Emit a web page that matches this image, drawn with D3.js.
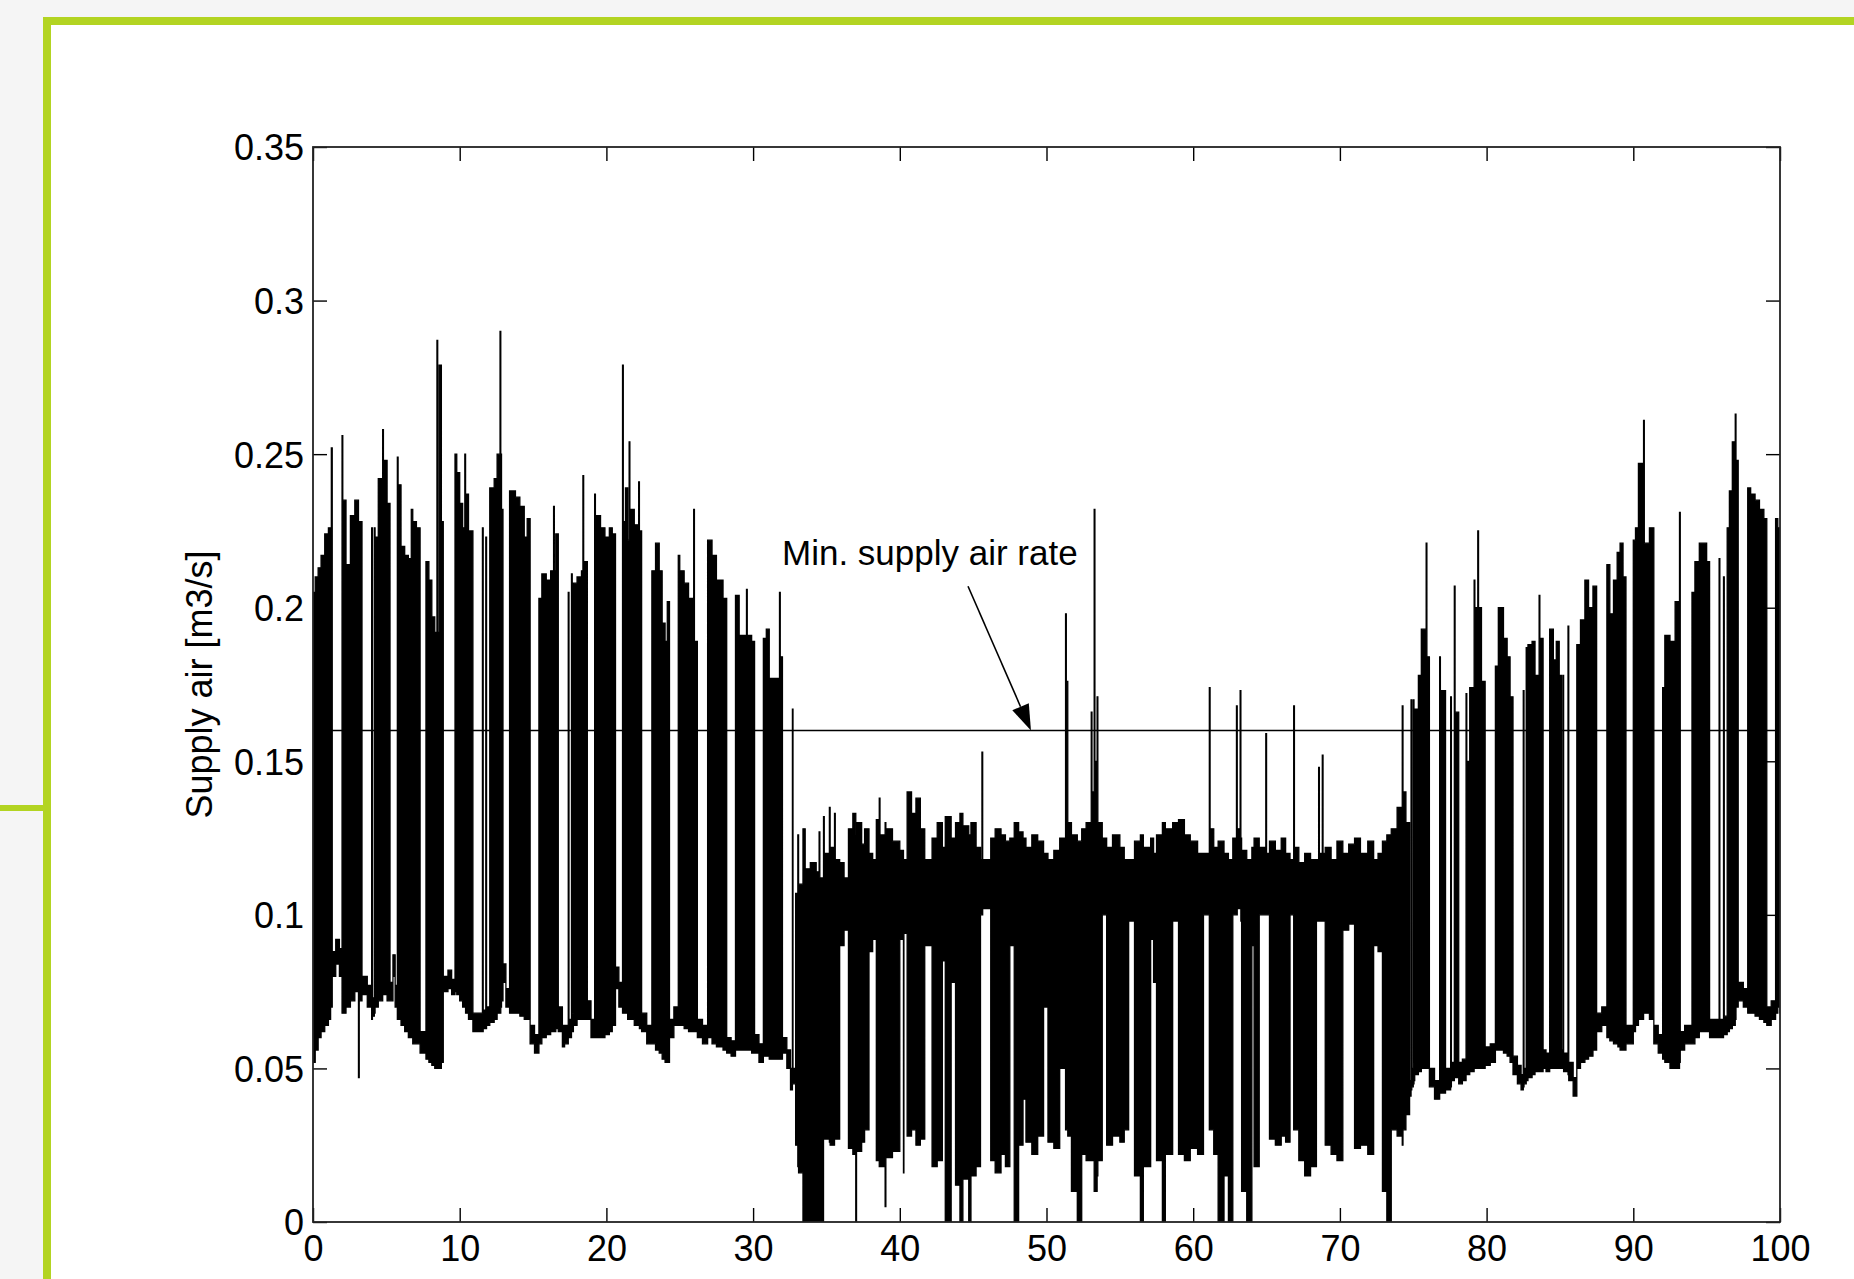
<!DOCTYPE html>
<html><head><meta charset="utf-8">
<script src="https://cdn.jsdelivr.net/npm/d3@7"></script>
<style>
html,body{margin:0;padding:0;background:#f4f4f4;}
svg{display:block;}
text{font-family:"Liberation Sans",Arial,Helvetica,sans-serif;fill:#000;}
</style></head><body>
<svg id="chart" width="1854" height="1279"></svg>
<script>
// ---------------- data ----------------
const xTicks = [0,10,20,30,40,50,60,70,80,90,100];
const yTicks = [0,0.05,0.1,0.15,0.2,0.25,0.3,0.35];
const yTickLabels = ["0","0.05","0.1","0.15","0.2","0.25","0.3","0.35"];
const yTitle = "Supply air [m3/s]";
const xTitle = "Time [h]";
const minSupplyRate = 0.16;
const annotationText = "Min. supply air rate";
const annotationTextAt = [31.97, 0.214];
const arrowFrom = [44.65, 0.207];
const arrowTo = [48.94, 0.16];

// [hour, low, high] — envelope of the supply-air signal, held until next sample
const seriesA = [
[0.00,0.052,0.205],[0.15,0.056,0.210],[0.35,0.060,0.213],[0.55,0.062,0.217],[0.80,0.064,0.224],[1.05,0.066,0.226],
[1.20,0.070,0.088],[1.25,0.070,0.252],[1.31,0.080,0.088],[1.55,0.084,0.092],[1.80,0.080,0.089],
[1.98,0.068,0.256],[2.03,0.068,0.235],[2.25,0.070,0.214],[2.55,0.072,0.230],[2.85,0.075,0.235],[3.10,0.047,0.228],[3.15,0.072,0.228],
[3.34,0.074,0.080],[3.70,0.070,0.077],[4.00,0.066,0.226],[4.05,0.067,0.073],
[4.18,0.068,0.226],[4.23,0.070,0.223],[4.45,0.072,0.242],[4.75,0.074,0.258],[4.80,0.074,0.248],[5.05,0.072,0.234],
[5.25,0.072,0.078],[5.45,0.080,0.087],[5.60,0.070,0.077],
[5.75,0.066,0.249],[5.80,0.066,0.240],[6.00,0.064,0.220],[6.25,0.062,0.217],[6.50,0.060,0.216],[6.70,0.060,0.232],[6.80,0.058,0.228],[7.05,0.058,0.226],
[7.30,0.055,0.062],
[7.70,0.053,0.215],[7.90,0.052,0.209],[8.10,0.051,0.197],[8.30,0.050,0.192],[8.45,0.050,0.287],[8.50,0.050,0.192],[8.60,0.050,0.279],[8.75,0.052,0.228],
[8.88,0.075,0.080],[9.20,0.076,0.082],[9.45,0.074,0.079],
[9.68,0.075,0.250],[9.80,0.074,0.244],[10.0,0.072,0.234],[10.2,0.070,0.226],[10.35,0.070,0.250],[10.40,0.068,0.237],[10.6,0.066,0.225],
[10.9,0.062,0.068],[11.55,0.062,0.226],[11.60,0.063,0.069],[11.78,0.063,0.223],[11.83,0.064,0.070],
[12.05,0.065,0.239],[12.35,0.066,0.242],[12.55,0.068,0.250],[12.75,0.068,0.290],[12.80,0.070,0.250],[12.85,0.072,0.232],
[12.95,0.078,0.084],[13.15,0.070,0.076],
[13.40,0.068,0.238],[13.80,0.068,0.236],[14.10,0.067,0.233],[14.40,0.066,0.223],[14.60,0.066,0.229],
[14.80,0.058,0.064],[15.10,0.055,0.061],
[15.40,0.058,0.203],[15.60,0.060,0.211],[15.90,0.061,0.209],[16.20,0.062,0.212],[16.40,0.062,0.233],[16.45,0.062,0.212],[16.55,0.063,0.224],
[16.72,0.062,0.070],[17.00,0.057,0.064],[17.15,0.058,0.064],[17.40,0.060,0.205],[17.45,0.060,0.066],[17.62,0.062,0.211],[17.67,0.062,0.068],
[17.75,0.064,0.208],[18.00,0.066,0.210],[18.30,0.066,0.212],[18.40,0.066,0.243],[18.45,0.066,0.215],
[18.70,0.066,0.072],[18.95,0.060,0.066],
[19.20,0.060,0.237],[19.25,0.060,0.230],[19.60,0.060,0.226],[19.90,0.061,0.223],[20.20,0.062,0.226],[20.40,0.064,0.224],
[20.62,0.076,0.083],[20.85,0.070,0.078],
[21.10,0.068,0.279],[21.15,0.068,0.228],[21.30,0.068,0.239],[21.45,0.066,0.222],[21.55,0.066,0.254],[21.60,0.066,0.232],[21.90,0.064,0.227],[22.20,0.064,0.241],[22.25,0.063,0.225],
[22.40,0.062,0.068],[22.75,0.058,0.064],
[23.10,0.058,0.212],[23.35,0.056,0.221],[23.60,0.055,0.212],[23.80,0.053,0.195],[24.00,0.052,0.189],[24.15,0.052,0.202],
[24.30,0.060,0.066],[24.60,0.064,0.070],
[24.90,0.064,0.217],[25.00,0.064,0.212],[25.30,0.063,0.208],[25.60,0.062,0.203],[25.95,0.062,0.232],[26.00,0.062,0.189],
[26.20,0.060,0.066],[26.55,0.058,0.064],
[26.90,0.060,0.222],[27.20,0.058,0.217],[27.50,0.057,0.209],[27.95,0.056,0.203],
[28.20,0.055,0.060],[28.50,0.054,0.059],
[28.80,0.056,0.204],[29.05,0.056,0.191],[29.55,0.056,0.206],[29.60,0.056,0.191],[29.90,0.055,0.189],
[30.10,0.055,0.061],[30.40,0.052,0.058],
[30.70,0.054,0.190],[30.90,0.054,0.193],[31.10,0.053,0.177],[31.80,0.053,0.205],[31.85,0.053,0.184],
[32.00,0.055,0.060],[32.30,0.050,0.056],[32.55,0.043,0.050],[32.68,0.045,0.167],[32.72,0.045,0.050]
];
const seriesB = [
[32.90,0.025,0.107],[33.05,0.018,0.126],[33.10,0.016,0.110],
[33.40,0.000,0.128],[33.55,0.000,0.115],[33.90,0.000,0.117],[34.30,0.000,0.114],[34.50,0.000,0.127],[34.55,0.000,0.112],
[34.80,0.027,0.132],[34.85,0.027,0.120],[35.20,0.026,0.135],[35.25,0.025,0.122],[35.55,0.027,0.133],[35.60,0.027,0.118],
[35.90,0.090,0.117],[36.20,0.095,0.112],
[36.50,0.024,0.128],[36.80,0.022,0.133],[37.00,0.000,0.126],[37.05,0.023,0.130],[37.40,0.026,0.123],[37.60,0.030,0.128],
[37.90,0.088,0.120],[38.15,0.092,0.118],
[38.40,0.020,0.131],[38.60,0.018,0.138],[38.65,0.018,0.126],[39.00,0.005,0.130],[39.05,0.021,0.128],[39.50,0.023,0.124],
[40.00,0.092,0.121],[40.25,0.016,0.118],[40.28,0.094,0.118],
[40.50,0.028,0.140],[40.80,0.030,0.133],[41.10,0.025,0.138],[41.40,0.027,0.128],
[41.70,0.090,0.118],
[42.20,0.018,0.125],[42.55,0.020,0.130],
[42.90,0.085,0.122],
[43.10,0.000,0.132],
[43.50,0.078,0.125],
[43.80,0.012,0.130],[44.10,0.000,0.133],[44.30,0.014,0.129],[44.70,0.000,0.126],[44.85,0.015,0.130],[45.20,0.018,0.122],
[45.50,0.100,0.118],[45.60,0.100,0.153],[45.65,0.102,0.118],
[46.20,0.020,0.125],[46.50,0.016,0.128],[46.90,0.022,0.126],[47.20,0.018,0.124],
[47.50,0.090,0.125],
[47.80,0.000,0.130],[48.10,0.025,0.127],
[48.40,0.040,0.125],
[48.60,0.026,0.122],[49.00,0.022,0.126],[49.40,0.028,0.124],
[49.80,0.070,0.120],
[50.10,0.026,0.118],[50.50,0.024,0.121],
[50.90,0.050,0.125],
[51.30,0.030,0.198],[51.35,0.030,0.176],[51.45,0.028,0.130],
[51.70,0.010,0.126],[52.10,0.000,0.124],[52.40,0.022,0.128],[52.70,0.020,0.130],
[53.05,0.020,0.166],[53.10,0.020,0.140],[53.25,0.010,0.232],[53.30,0.010,0.150],[53.45,0.015,0.171],[53.50,0.020,0.130],
[53.80,0.100,0.125],
[54.10,0.025,0.122],[54.50,0.028,0.126],[55.00,0.026,0.122],[55.30,0.030,0.118],
[55.60,0.098,0.118],
[56.00,0.015,0.124],[56.40,0.000,0.126],[56.60,0.018,0.122],
[57.10,0.092,0.125],[57.30,0.078,0.120],
[57.50,0.020,0.126],[57.90,0.000,0.130],[58.10,0.022,0.128],
[58.60,0.098,0.130],
[59.00,0.022,0.131],[59.40,0.020,0.126],[59.80,0.024,0.124],[60.30,0.022,0.120],
[60.70,0.100,0.120],
[61.10,0.030,0.174],[61.15,0.030,0.128],[61.40,0.022,0.122],[61.70,0.000,0.124],[62.10,0.015,0.120],[62.40,0.000,0.118],
[62.70,0.100,0.125],[62.95,0.100,0.168],[63.00,0.102,0.128],[63.20,0.102,0.173],[63.25,0.098,0.125],
[63.30,0.010,0.121],[63.65,0.000,0.118],
[64.00,0.090,0.122],
[64.15,0.018,0.125],
[64.50,0.100,0.122],[64.95,0.100,0.159],[65.00,0.100,0.120],
[65.20,0.027,0.124],[65.60,0.025,0.121],[66.00,0.028,0.125],[66.30,0.026,0.120],
[66.60,0.100,0.118],
[66.85,0.030,0.168],[66.90,0.030,0.122],[67.20,0.020,0.117],[67.60,0.015,0.120],[68.00,0.018,0.118],
[68.40,0.098,0.118],[68.55,0.098,0.148],[68.60,0.098,0.120],[68.80,0.098,0.152],[68.85,0.098,0.120],
[69.00,0.025,0.122],[69.40,0.022,0.118],[69.80,0.020,0.124],
[70.20,0.095,0.120],[70.60,0.097,0.123],
[71.00,0.024,0.125],[71.40,0.025,0.120],[71.90,0.022,0.124],
[72.30,0.090,0.118],[72.60,0.088,0.120],
[72.90,0.010,0.124],[73.20,0.000,0.126],
[73.50,0.030,0.128],[73.90,0.028,0.135],[74.25,0.025,0.168],[74.30,0.030,0.140],[74.50,0.035,0.130]
];
const seriesC = [
[74.75,0.041,0.046],[74.85,0.043,0.170],[74.90,0.044,0.050],[75.00,0.045,0.170],[75.05,0.046,0.052],
[75.10,0.048,0.167],[75.35,0.049,0.178],[75.55,0.050,0.193],[75.88,0.050,0.221],[75.93,0.050,0.184],
[76.10,0.044,0.050],[76.45,0.040,0.046],
[76.80,0.042,0.184],[76.85,0.042,0.173],
[77.20,0.043,0.050],[77.55,0.044,0.171],[77.60,0.046,0.052],[77.80,0.047,0.207],[77.85,0.047,0.166],
[78.10,0.045,0.052],[78.35,0.046,0.053],
[78.60,0.048,0.172],[78.65,0.048,0.150],[78.85,0.049,0.174],[79.15,0.050,0.209],[79.20,0.050,0.200],[79.40,0.050,0.225],[79.45,0.050,0.200],[79.65,0.050,0.176],
[79.90,0.051,0.057],[80.25,0.052,0.058],
[80.60,0.056,0.181],[80.80,0.056,0.200],[81.15,0.055,0.190],[81.40,0.054,0.184],[81.60,0.052,0.171],
[81.80,0.048,0.054],[82.10,0.045,0.051],[82.35,0.043,0.048],[82.50,0.044,0.173],[82.55,0.045,0.050],[82.70,0.046,0.187],[82.75,0.046,0.050],
[82.82,0.047,0.188],[83.10,0.048,0.189],[83.30,0.049,0.178],[83.58,0.049,0.204],[83.63,0.049,0.190],
[83.85,0.050,0.056],[84.05,0.049,0.055],
[84.30,0.050,0.193],[84.55,0.050,0.183],[84.75,0.050,0.189],[84.95,0.050,0.178],
[85.10,0.050,0.056],[85.20,0.050,0.178],[85.25,0.049,0.055],[85.55,0.048,0.194],[85.60,0.046,0.052],[85.90,0.041,0.047],
[86.15,0.050,0.188],[86.40,0.052,0.196],[86.70,0.053,0.209],[86.95,0.054,0.200],[87.25,0.056,0.207],
[87.50,0.062,0.068],[87.85,0.064,0.070],
[88.20,0.060,0.214],[88.40,0.059,0.198],[88.65,0.058,0.209],[88.90,0.136,0.218],[88.95,0.057,0.218],[89.10,0.056,0.221],[89.30,0.056,0.210],
[89.50,0.058,0.064],
[90.00,0.062,0.222],[90.15,0.064,0.226],[90.35,0.066,0.247],[90.70,0.068,0.261],[90.75,0.068,0.221],[91.10,0.066,0.226],
[91.40,0.058,0.064],[91.70,0.055,0.061],
[92.00,0.053,0.174],[92.15,0.052,0.191],[92.50,0.050,0.189],[92.85,0.050,0.202],[93.15,0.052,0.231],[93.20,0.056,0.062],
[93.50,0.058,0.064],
[94.00,0.058,0.205],[94.20,0.060,0.215],[94.50,0.062,0.221],[95.00,0.062,0.215],
[95.20,0.060,0.066],[95.85,0.060,0.216],[95.90,0.060,0.066],[96.15,0.061,0.210],[96.20,0.061,0.067],
[96.40,0.062,0.226],[96.55,0.063,0.238],[96.75,0.064,0.254],[96.95,0.066,0.263],[97.00,0.070,0.248],
[97.15,0.072,0.078],[97.50,0.070,0.076],
[97.80,0.068,0.239],[98.00,0.068,0.237],[98.30,0.067,0.235],[98.60,0.066,0.232],[98.90,0.065,0.229],
[99.10,0.064,0.070],[99.40,0.066,0.072],
[99.70,0.068,0.229],[99.85,0.070,0.226],[100.0,0.068,0.226]
];

// ---------------- layout ----------------
const W = 1854, H = 1279;
const plot = {left:313, right:1780, top:147, bottom:1222};
const green = "#b3d422";
const fontSize = 36;

const svg = d3.select("#chart");

// page frame
svg.append("rect").attr("x",0).attr("y",0).attr("width",W).attr("height",H).attr("fill","#f5f5f5");
svg.append("rect").attr("x",47).attr("y",21).attr("width",W-47).attr("height",H-21).attr("fill","#ffffff");
svg.append("rect").attr("x",43).attr("y",17).attr("width",W-43).attr("height",8).attr("fill",green);
svg.append("rect").attr("x",43).attr("y",17).attr("width",8).attr("height",H-17).attr("fill",green);
svg.append("rect").attr("x",0).attr("y",805).attr("width",43).attr("height",6).attr("fill",green);

const x = d3.scaleLinear().domain([0,100]).range([plot.left, plot.right]);
const y = d3.scaleLinear().domain([0,0.35]).range([plot.bottom, plot.top]);

svg.append("clipPath").attr("id","clip").append("rect")
  .attr("x",plot.left).attr("y",plot.top).attr("width",plot.right-plot.left).attr("height",plot.bottom-plot.top);

// series
const series = seriesA.concat(seriesB, seriesC);
const area = d3.area()
  .x(d => x(d[0]))
  .y0(d => y(d[1]))
  .y1(d => y(d[2]))
  .curve(d3.curveStepAfter);
svg.append("path")
  .attr("clip-path","url(#clip)")
  .attr("d", area(series))
  .attr("fill","#000")
  .attr("stroke","#000")
  .attr("stroke-width",1.3)
  .attr("stroke-linejoin","miter");

// min supply air line
svg.append("line")
  .attr("x1",x(0)).attr("x2",x(100))
  .attr("y1",y(minSupplyRate)).attr("y2",y(minSupplyRate))
  .attr("stroke","#000").attr("stroke-width",1.6);

// axes (ticks inward on all four sides)
const tickLen = 14;
const gB = svg.append("g").attr("transform",`translate(0,${plot.bottom})`)
  .call(d3.axisBottom(x).tickValues(xTicks).tickSizeInner(-tickLen).tickSizeOuter(0).tickPadding(13).tickFormat(d3.format("d")));
const gT = svg.append("g").attr("transform",`translate(0,${plot.top})`)
  .call(d3.axisTop(x).tickValues(xTicks).tickSizeInner(-tickLen).tickSizeOuter(0).tickFormat(""));
const gL = svg.append("g").attr("transform",`translate(${plot.left},0)`)
  .call(d3.axisLeft(y).tickValues(yTicks).tickSizeInner(-tickLen).tickSizeOuter(0).tickPadding(9).tickFormat((d,i)=>yTickLabels[i]));
const gR = svg.append("g").attr("transform",`translate(${plot.right},0)`)
  .call(d3.axisRight(y).tickValues(yTicks).tickSizeInner(-tickLen).tickSizeOuter(0).tickFormat(""));
[gB,gT,gL,gR].forEach(g => {
  g.select(".domain").remove();
  g.selectAll(".tick line").attr("stroke","#000").attr("stroke-width",1.4);
  g.selectAll("text").attr("font-size",fontSize).attr("font-family","Liberation Sans, Arial, sans-serif").attr("fill","#000");
});
gB.selectAll(".tick text").attr("dy","0.71em");
gL.selectAll(".tick text").attr("dy","0.36em");

// box
svg.append("rect")
  .attr("x",plot.left).attr("y",plot.top)
  .attr("width",plot.right-plot.left).attr("height",plot.bottom-plot.top)
  .attr("fill","none").attr("stroke","#222").attr("stroke-width",1.8);

// titles
svg.append("text")
  .attr("transform",`translate(212,${(plot.top+plot.bottom)/2}) rotate(-90)`)
  .attr("text-anchor","middle").attr("font-size",fontSize)
  .text(yTitle);
svg.append("text")
  .attr("x",(plot.left+plot.right)/2).attr("y",1312)
  .attr("text-anchor","middle").attr("font-size",fontSize)
  .text(xTitle);

// annotation
svg.append("text")
  .attr("x",x(annotationTextAt[0])).attr("y",y(annotationTextAt[1]))
  .attr("font-size",35)
  .text(annotationText);
const ax0 = x(arrowFrom[0]), ay0 = y(arrowFrom[1]);
const ax1 = x(arrowTo[0]), ay1 = y(arrowTo[1]);
const ang = Math.atan2(ay1-ay0, ax1-ax0);
const headLen = 26, headHalf = 9;
const bx = ax1 - headLen*Math.cos(ang), by = ay1 - headLen*Math.sin(ang);
svg.append("line")
  .attr("x1",ax0).attr("y1",ay0).attr("x2",bx).attr("y2",by)
  .attr("stroke","#000").attr("stroke-width",1.6);
svg.append("path")
  .attr("d", d3.line()([
    [ax1, ay1],
    [bx + headHalf*Math.sin(ang), by - headHalf*Math.cos(ang)],
    [bx - headHalf*Math.sin(ang), by + headHalf*Math.cos(ang)]
  ]) + "Z")
  .attr("fill","#000");
</script>
</body></html>
